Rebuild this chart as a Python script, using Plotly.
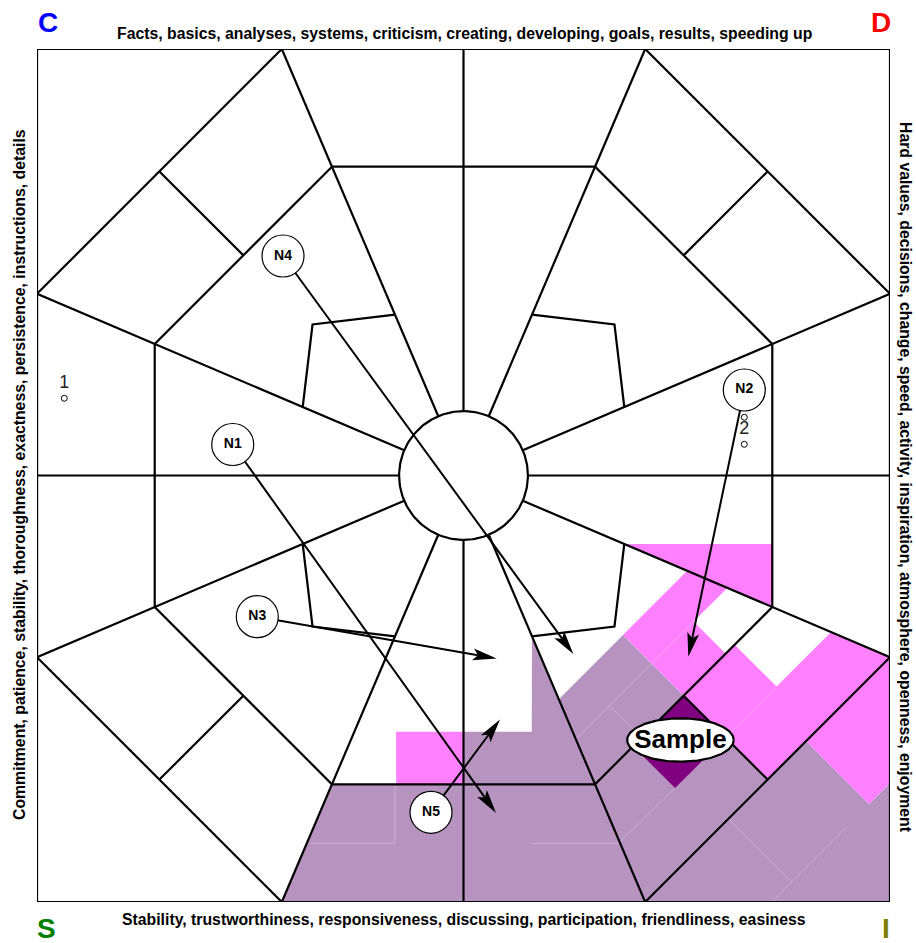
import numpy as np
import plotly.graph_objects as go

# ---------------- diagram geometry (square spans -1..1 on both axes) ----------------
OCT_A = 0.426        # outer octagon vertex offset along the square edge
INNER_T = 0.724      # inner octagon vertices, as fraction along each radial
HUB_R = 0.151        # radius of the central circle
BRACKET_T = 0.377    # bracket end points, fraction along the radials
BRACKET_D = 0.354    # bracket corner on the diagonal

# ---------------- score areas ----------------
# regions in the lower-right diagonal sector, given as (u, w) = (x - y, x + y)
PINK_SE_UW = [
    [(0.748, 0.0), (1.034, 0.0), (1.034, 0.197), (0.882, 0.197), (0.882, 0.355), (0.748, 0.301)],
    [(1.034, 0.0), (1.426, 0.0), (1.426, 0.574), (1.229, 0.4947), (1.229, 0.239), (1.034, 0.239)],
    [(1.426, 0.181), (1.721, 0.181), (1.721, 0.279), (1.426, 0.574)],
]
DARK_SE_UW = [(1.034, 0.0), (1.229, 0.0), (1.229, -0.237), (1.034, -0.237)]
# regions given directly as (x, y)
PINK_E_XY = [(0.3767, -0.1606), (0.725, -0.1606), (0.725, -0.309)]
PINK_S_XY = [(-0.158, -0.601), (0.0, -0.601), (0.0, -0.724), (-0.158, -0.724)]
PURPLE_XY = [(-0.426, -1.0), (-0.309, -0.724), (0.0, -0.724), (0.0, -0.601), (0.16, -0.601),
             (0.1606, -0.377), (0.2235, -0.5245), (0.374, -0.374), (0.713, -0.713),
             (0.8035, -0.6225), (0.951, -0.770), (1.0, -0.721), (1.0, -1.0)]
# faint seams between neighbouring score cells
SEAMS_PURPLE_XY = [
    [(-0.3599, -0.8624), (-0.1606, -0.8624), (-0.1606, -0.724)],
    [(0.1599, -0.8624), (0.3630, -0.8624), (0.496, -0.733)],
]
SEAMS_PURPLE_UW = [
    [(0.882, 0.0), (0.882, -0.355)],
    [(0.882, -0.197), (1.034, -0.197)],
    [(1.428, -0.183), (1.722, -0.183)],
    [(1.722, -0.277), (1.722, 0.071)],
]
SEAMS_PINK_UW = [
    [(0.882, 0.0), (0.882, 0.197)],
    [(1.229, 0.0), (1.229, 0.239)],
]

# ---------------- nodes and arrows ----------------
NODE_NAMES = ["N1", "N2", "N3", "N4", "N5"]
NODE_X = [-0.5411, 0.6584, -0.4835, -0.4232, -0.0762]
NODE_Y = [0.0727, 0.2005, -0.3310, 0.5146, -0.7897]
TARGET_X = [0.0762, 0.5271, 0.0778, 0.2575, 0.0856]
TARGET_Y = [-0.7914, -0.4251, -0.4290, -0.4185, -0.5721]

POINT_LABELS = ["1", "2"]
LABEL_X = [-0.936, 0.6584]
LABEL_Y = [0.216, 0.1067]
POINT_X = [-0.936, 0.6584, 0.6584]
POINT_Y = [0.181, 0.1365, 0.0732]

SAMPLE_LABEL = "Sample"
SAMPLE_X, SAMPLE_Y = 0.5087, -0.6202

TITLE_TOP = "Facts, basics, analyses, systems, criticism, creating, developing, goals, results, speeding up"
TITLE_BOTTOM = "Stability, trustworthiness, responsiveness, discussing, participation, friendliness, easiness"
TITLE_LEFT = "Commitment, patience, stability, thoroughness, exactness, persistence, instructions, details"
TITLE_RIGHT = "Hard values, decisions, change, speed, activity, inspiration, atmosphere, openness, enjoyment"
CORNERS = [("C", "#0000FF"), ("D", "#FF0000"), ("S", "#008000"), ("I", "#808000")]

PINK = "#FF80FF"
PURPLE = "#B794C0"
DARK = "#800080"
FONT = "Liberation Sans, Arial, sans-serif"

PX = 426.5  # pixels per unit (used for pixel-sized decorations)


def uw_to_xy(pts):
    return [((u + w) / 2.0, (w - u) / 2.0) for u, w in pts]


def poly_trace(pts, color):
    xs = [p[0] for p in pts] + [pts[0][0]]
    ys = [p[1] for p in pts] + [pts[0][1]]
    return go.Scatter(x=xs, y=ys, mode="lines", fill="toself", fillcolor=color,
                      line=dict(width=0, color=color), hoverinfo="skip", showlegend=False)


def polyline_trace(lines, color, width):
    xs, ys = [], []
    for s in lines:
        xs += [p[0] for p in s] + [None]
        ys += [p[1] for p in s] + [None]
    return go.Scatter(x=xs, y=ys, mode="lines", line=dict(color=color, width=width),
                      hoverinfo="skip", showlegend=False)


fig = go.Figure()

# fills
fig.add_trace(poly_trace(PURPLE_XY, PURPLE))
for reg in PINK_SE_UW:
    fig.add_trace(poly_trace(uw_to_xy(reg), PINK))
fig.add_trace(poly_trace(PINK_E_XY, PINK))
fig.add_trace(poly_trace(PINK_S_XY, PINK))
fig.add_trace(poly_trace(uw_to_xy(DARK_SE_UW), DARK))
fig.add_trace(polyline_trace(SEAMS_PURPLE_XY + [uw_to_xy(s) for s in SEAMS_PURPLE_UW], "#CDB3D5", 0.9))
fig.add_trace(polyline_trace([uw_to_xy(s) for s in SEAMS_PINK_UW], "#FFA6FF", 0.9))

# grid lines
A = OCT_A
V = [(-A, 1), (A, 1), (1, A), (1, -A), (A, -1), (-A, -1), (-1, -A), (-1, A)]
segs = []
segs.append([(-1, -1), (1, -1), (1, 1), (-1, 1), (-1, -1)])
segs.append(V + [V[0]])
segs.append([(INNER_T * x, INNER_T * y) for x, y in V] + [(INNER_T * V[0][0], INNER_T * V[0][1])])
segs.append([(-1, 0), (1, 0)])
segs.append([(0, -1), (0, 1)])
for x, y in V:
    n = np.hypot(x, y)
    segs.append([(HUB_R * x / n, HUB_R * y / n), (x, y)])
for k in [1, 3, 5, 7]:
    p1 = V[k]
    p2 = V[(k + 1) % 8]
    mo = ((p1[0] + p2[0]) / 2, (p1[1] + p2[1]) / 2)
    segs.append([mo, (INNER_T * mo[0], INNER_T * mo[1])])
    sx, sy = np.sign(mo[0]), np.sign(mo[1])
    segs.append([(BRACKET_T * p1[0], BRACKET_T * p1[1]), (BRACKET_D * sx, BRACKET_D * sy),
                 (BRACKET_T * p2[0], BRACKET_T * p2[1])])
fig.add_trace(polyline_trace(segs, "black", 2.2))

# hub circle
t = np.linspace(0, 2 * np.pi, 181)
fig.add_trace(go.Scatter(x=HUB_R * np.cos(t), y=HUB_R * np.sin(t), mode="lines", fill="toself",
                         fillcolor="white", line=dict(color="black", width=2.2),
                         hoverinfo="skip", showlegend=False))

# arrows
L = 24 / PX
HW = 6 / PX
NOTCH = 5 / PX
arrow_lines = []
for i in range(len(NODE_NAMES)):
    x0, y0, x1, y1 = NODE_X[i], NODE_Y[i], TARGET_X[i], TARGET_Y[i]
    d = np.array([x1 - x0, y1 - y0])
    d = d / np.hypot(*d)
    nrm = np.array([-d[1], d[0]])
    tip = np.array([x1, y1])
    back = tip - L * d
    notch = tip - (L - NOTCH) * d
    arrow_lines.append([(x0, y0), (notch[0], notch[1])])
    head = [tip, back + HW * nrm, notch, back - HW * nrm]
    fig.add_trace(poly_trace([tuple(p) for p in head], "black"))
fig.add_trace(polyline_trace(arrow_lines, "black", 2))

# node circles
fig.add_trace(go.Scatter(x=NODE_X, y=NODE_Y, mode="markers+text", text=NODE_NAMES,
                         textposition="middle center",
                         textfont=dict(family=FONT, size=14, color="black", weight="bold"),
                         marker=dict(size=42, color="white", line=dict(color="black", width=1.2)),
                         hoverinfo="skip", showlegend=False))

# Sample ellipse
ea, eb = 53.3 / PX, 21.7 / PX
fig.add_trace(go.Scatter(x=SAMPLE_X + ea * np.cos(t), y=SAMPLE_Y + eb * np.sin(t), mode="lines",
                         fill="toself", fillcolor="white", line=dict(color="black", width=2.2),
                         hoverinfo="skip", showlegend=False))
fig.add_trace(go.Scatter(x=[SAMPLE_X], y=[SAMPLE_Y - 1.5 / PX], mode="text", text=[SAMPLE_LABEL],
                         textfont=dict(family=FONT, size=26, color="black", weight="bold"),
                         hoverinfo="skip", showlegend=False))

# small points and their labels
fig.add_trace(go.Scatter(x=POINT_X, y=POINT_Y, mode="markers",
                         marker=dict(size=6, color="white", line=dict(color="black", width=1)),
                         hoverinfo="skip", showlegend=False))
fig.add_trace(go.Scatter(x=LABEL_X, y=LABEL_Y, mode="text", text=POINT_LABELS,
                         textfont=dict(family=FONT, size=18, color="#222222"),
                         hoverinfo="skip", showlegend=False))

# titles around the square (paper coordinates)
W_PLOT = 853.0
def px_to_paper(px, py):
    return (px - 37) / W_PLOT, (902 - py) / W_PLOT

ann = []
tfont = dict(family=FONT, size=15.8, color="black", weight="bold")
for text, (px, py), ang in [(TITLE_TOP, (464, 33), 0), (TITLE_BOTTOM, (463.5, 919), 0),
                            (TITLE_LEFT, (19, 475), -90), (TITLE_RIGHT, (906, 477), 90)]:
    xp, yp = px_to_paper(px, py)
    ann.append(dict(x=xp, y=yp, xref="paper", yref="paper", text=text, showarrow=False,
                    textangle=ang, font=tfont, xanchor="center", yanchor="middle"))
corner_pos = [(47.5, 22), (881, 22), (46.5, 929), (886, 929)]
for (letter, col), (px, py) in zip(CORNERS, corner_pos):
    xp, yp = px_to_paper(px, py)
    ann.append(dict(x=xp, y=yp, xref="paper", yref="paper", text=letter, showarrow=False,
                    font=dict(family=FONT, size=28, color=col, weight="bold"),
                    xanchor="center", yanchor="middle"))

fig.update_layout(
    width=916, height=943,
    margin=dict(l=37, r=26, t=49, b=41, pad=0),
    paper_bgcolor="white", plot_bgcolor="white",
    xaxis=dict(range=[-1, 1], visible=False, fixedrange=True),
    yaxis=dict(range=[-1, 1], visible=False, fixedrange=True),
    annotations=ann, showlegend=False,
)
fig.write_html("out.html", config={"displayModeBar": False, "staticPlot": True},
               post_script="document.body.style.margin='0';document.body.style.overflow='hidden';")
